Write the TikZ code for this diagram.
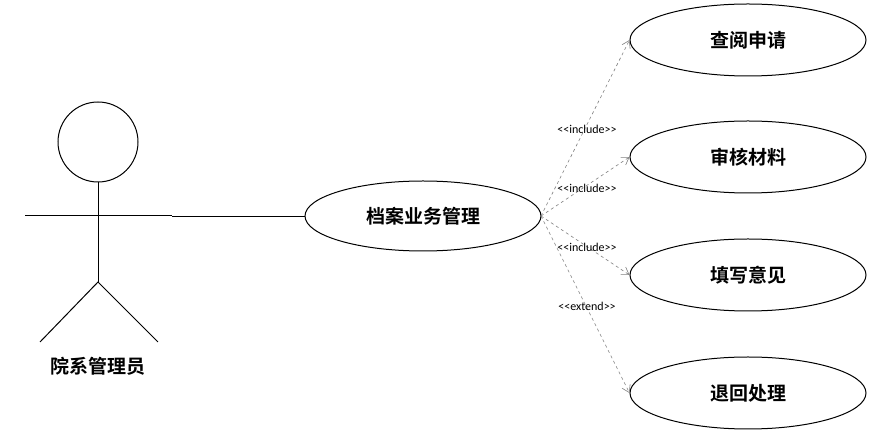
\documentclass[tikz,border=0pt]{standalone}
\usepackage{fontspec}
\setmainfont{Carlito}
\newfontfamily\cjk{Noto Sans CJK SC}[BoldFont=* Bold]
\usetikzlibrary{shapes.geometric,arrows.meta}
\begin{document}
\begin{tikzpicture}[x=1pt,y=-1pt,line width=1pt,
  uc/.style={draw,ellipse,minimum width=236pt,minimum height=72pt,inner sep=0pt,font=\cjk\bfseries\fontsize{19}{19}\selectfont},
  dep/.style={draw,gray,dashed,line width=0.6pt,-{Straight Barb[length=7pt,width=9pt]}},
  lab/.style={font=\fontsize{12}{12}\selectfont,inner sep=1pt}]
\useasboundingbox (0,0) rectangle (871,435);
\node[draw,circle,minimum size=80pt,inner sep=0pt] (head) at (98,142) {};
\coordinate (armL) at (25,216);
\coordinate (armR) at (172,216);
\coordinate (hip) at (98,282);
\coordinate (legL) at (40,342);
\coordinate (legR) at (158,342);
\draw (head.south) -- (hip);
\draw (armL) -- (armR);
\draw (legL) -- (hip) -- (legR);
\node[font=\cjk\bfseries\fontsize{19}{19}\selectfont] (actor) at (98,366) {院系管理员};
\node[uc,minimum width=236pt,minimum height=70pt] (main) at (423,216) {档案业务管理};
\node[uc] (u1) at (748,40) {查阅申请};
\node[uc] (u2) at (748,157) {审核材料};
\node[uc] (u3) at (748,275) {填写意见};
\node[uc] (u4) at (748,393) {退回处理};
\draw[line width=0.6pt] (armR) -- (main.west);
\coordinate (s) at (541,216);
\draw[dep] (s) -- (u1.west);
\draw[dep] (s) -- (u2.west);
\draw[dep] (s) -- (u3.west);
\draw[dep] (s) -- (u4.west);
\node[lab] (l1) at (587,129) {<{}<include>{}>};
\node[lab] (l2) at (587,188) {<{}<include>{}>};
\node[lab] (l3) at (587,247) {<{}<include>{}>};
\node[lab] (l4) at (587,306) {<{}<extend>{}>};
\end{tikzpicture}
\end{document}
